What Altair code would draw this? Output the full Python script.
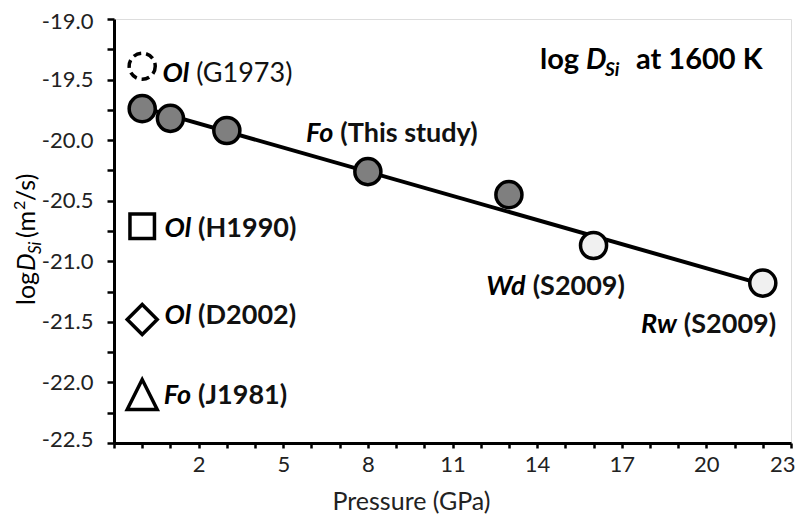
import altair as alt
import pandas as pd

# ---- data ----
fo_P = [0, 1, 3, 8, 13]
fo_logD = [-19.74, -19.82, -19.92, -20.26, -20.45]
hp_P = [16, 22]
hp_logD = [-20.87, -21.18]
fit_P = [0, 22]
fit_logD = [-19.73, -21.19]
ref_P = [0, 0, 0, 0]
ref_logD = [-19.39, -20.71, -21.48, -22.10]
ref_kind = ["dashed", "square", "diamond", "triangle"]

lab_phase = ["Ol", "Fo", "Ol", "Ol", "Fo", "Wd", "Rw"]
lab_src = ["(G1973)", "(This study)", "(H1990)", "(D2002)", "(J1981)", "(S2009)", "(S2009)"]
lab_P = [1.77, 6.88, 1.84, 1.84, 1.84, 13.70, 19.06]
lab_logD = [-19.45, -19.95, -20.73, -21.45, -22.11, -21.21, -21.53]
lab_bold = [False, True, True, True, True, True, True]

x_tick_values = [-1, 0, 1, 2, 3, 4, 5, 6, 7, 8, 9, 10, 11, 12, 13, 14, 15, 16, 17, 18, 19, 20, 21, 22, 23]
y_tick_values = [-22.5, -22.25, -22.0, -21.75, -21.5, -21.25, -21.0, -20.75, -20.5,
                 -20.25, -20.0, -19.75, -19.5, -19.25, -19.0]

FONT = "Lato"
W, H = 677, 424

fo_df = pd.DataFrame({"P": fo_P, "logD": fo_logD})
hp_df = pd.DataFrame({"P": hp_P, "logD": hp_logD})
fit_df = pd.DataFrame({"P": fit_P, "logD": fit_logD})
ref_df = pd.DataFrame({"P": ref_P, "logD": ref_logD, "kind": ref_kind})
lab_df = pd.DataFrame({"P": lab_P, "logD": lab_logD, "phase": lab_phase,
                       "src": lab_src, "bold": lab_bold})

xscale = alt.Scale(domain=[-1, 23], nice=False, zero=False)
yscale = alt.Scale(domain=[-22.5, -19.0], nice=False, zero=False)

xaxis = alt.Axis(
    values=x_tick_values,
    labelExpr="datum.value >= 2 && (datum.value + 1) % 3 == 0 ? datum.label : ''",
    grid=False, tickSize=5, tickWidth=2.5, tickColor="black",
    domainColor="black", domainWidth=3,
    labelFont=FONT, labelFontSize=22, labelColor="#222222",
    labelPadding=6, labelOverlap=False, labelFlush=True, labelFlushOffset=4,
    title="Pressure (GPa)", titleFont=FONT, titleFontSize=25,
    titleFontWeight="normal", titleColor="#222222",
    titleX=297, titleY=58, titleAnchor="middle", titleBaseline="middle",
)
yaxis = alt.Axis(
    values=y_tick_values,
    labelExpr="(datum.value * 2) % 1 == 0 ? replace(replace(format(datum.value, '.1f'), '\u2212', '-'), '\u2013', '-') : ''",
    grid=False, tickSize=7, tickWidth=2.5, tickColor="black",
    domainColor="black", domainWidth=3,
    labelFont=FONT, labelFontSize=22, labelColor="#222222",
    labelPadding=14, labelOverlap=False, labelFlush=True, labelFlushOffset=8,
    title=None,
)


def enc(ch):
    return ch.encode(
        x=alt.X("P:Q", scale=xscale, axis=xaxis),
        y=alt.Y("logD:Q", scale=yscale, axis=yaxis),
    )


line = enc(alt.Chart(fit_df).mark_line(color="black", strokeWidth=4))
fo_pts = enc(alt.Chart(fo_df).mark_point(
    shape="circle", filled=True, fill="#7f7f7f", stroke="black",
    strokeWidth=3.5, size=680, opacity=1))
hp_pts = enc(alt.Chart(hp_df).mark_point(
    shape="circle", filled=True, fill="#f0f0f0", stroke="black",
    strokeWidth=3.5, size=680, opacity=1))

dashed = enc(alt.Chart(ref_df).transform_filter("datum.kind == 'dashed'").mark_point(
    shape="circle", filled=False, stroke="black", strokeWidth=3.5,
    strokeDash=[8, 5], size=680, opacity=1))
square = enc(alt.Chart(ref_df).transform_filter("datum.kind == 'square'").mark_point(
    shape="square", filled=True, fill="white", stroke="black", strokeWidth=3.5,
    size=600, opacity=1))
diamond = enc(alt.Chart(ref_df).transform_filter("datum.kind == 'diamond'").mark_point(
    shape="diamond", filled=True, fill="white", stroke="black", strokeWidth=3.5,
    size=900, opacity=1))
triangle = enc(alt.Chart(ref_df).transform_filter("datum.kind == 'triangle'").mark_point(
    shape="M0,-1L-1,1L1,1Z", filled=True, fill="white", stroke="black",
    strokeWidth=3.5, size=900, opacity=1))

lab_phase_txt = enc(alt.Chart(lab_df).mark_text(
    font=FONT, fontSize=27, fontWeight="bold", fontStyle="italic",
    align="right", baseline="middle", dx=-3, color="black")).encode(text="phase:N")
lab_src_bold = enc(alt.Chart(lab_df).transform_filter("datum.bold").mark_text(
    font=FONT, fontSize=27, fontWeight="bold",
    align="left", baseline="middle", dx=4, color="#111111")).encode(text="src:N")
lab_src_norm = enc(alt.Chart(lab_df).transform_filter("!datum.bold").mark_text(
    font=FONT, fontSize=27, fontWeight="normal",
    align="left", baseline="middle", dx=4, color="#111111")).encode(text="src:N")

one = alt.Data(values=[{"k": 1}])


def ptext(txt, x, y, size, weight="normal", style="normal", angle=0, baseline="alphabetic"):
    return alt.Chart(one).mark_text(
        text=txt, font=FONT, fontSize=size, fontWeight=weight, fontStyle=style,
        angle=angle, align="left", baseline=baseline, color="black",
    ).encode(x=alt.value(x), y=alt.value(y))


# in-plot title: log D_Si at 1600 K
title_parts = [
    ptext("log", 426, 50, 29, weight="bold"),
    ptext("D", 472, 50, 29, weight="bold", style="italic"),
    ptext("Si", 491, 57, 19, weight="bold", style="italic"),
    ptext("at 1600 K", 522, 50, 29, weight="bold"),
]

# rotated y-axis title: log D_Si (m2/s)
yt = [
    ptext("log", -79, 286, 25, angle=270),
    ptext("D", -79, 252, 25, style="italic", angle=270),
    ptext("Si", -73, 235, 17, style="italic", angle=270),
    ptext("(m", -79, 219, 25, angle=270),
    ptext("2", -89, 191, 16, angle=270),
    ptext("/s)", -79, 182, 25, angle=270),
]

chart = alt.layer(
    line, fo_pts, hp_pts, dashed, square, diamond, triangle,
    lab_phase_txt, lab_src_bold, lab_src_norm, *title_parts, *yt,
).properties(
    width=W, height=H,
    autosize=alt.AutoSizeParams(type="none"),
    padding={"left": 106, "top": 11, "right": 5, "bottom": 73},
).configure_view(
    stroke="black", strokeWidth=3,
).configure(
    background="white", font=FONT,
)

chart.save("out.html", embed_options={"renderer": "svg", "actions": False})
